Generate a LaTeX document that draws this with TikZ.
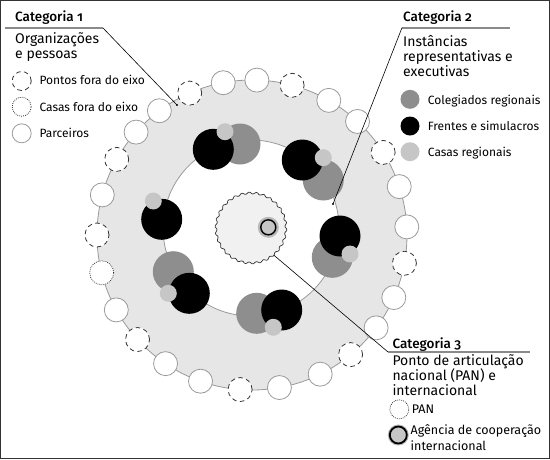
\documentclass[tikz,border=0pt]{standalone}
\usepackage{fontspec}
\setmainfont{Fira Sans}[Numbers=OldStyle]
\newfontfamily\headfont{Fira Sans Medium}[Numbers=OldStyle]
\usetikzlibrary{calc}
\definecolor{discfill}{HTML}{E6E6E7}
\definecolor{ringgray}{HTML}{9A9A9A}
\definecolor{darkline}{HTML}{333333}
\definecolor{midgray}{HTML}{8E8E8E}
\definecolor{ltgray}{HTML}{C6C6C6}
\definecolor{wavyfill}{HTML}{F1F1F1}
\definecolor{hgray}{HTML}{8A8A8A}
\definecolor{framecol}{HTML}{333333}
\tikzset{
  ringsolid/.style={circle, draw=ringgray, line width=0.8pt, fill=white, minimum size=24pt, inner sep=0pt},
  ringdash/.style={ringsolid, draw=darkline, dash pattern=on 4.5pt off 3.5pt},
  ringdot/.style={ringsolid, draw=darkline, dash pattern=on 0.8pt off 1.2pt},
  lgsolid/.style={ringsolid, minimum size=19pt},
  lgdash/.style={ringdash, minimum size=19pt},
  lgdot/.style={ringdot, minimum size=19pt},
  medc/.style={circle, fill=midgray, minimum size=41pt, inner sep=0pt},
  blkc/.style={circle, fill=black, minimum size=41pt, inner sep=0pt},
  ltc/.style={circle, fill=ltgray, minimum size=17pt, inner sep=0pt},
  lgfill/.style={circle, minimum size=19pt, inner sep=0pt},
  txt/.style={anchor=base west, inner sep=0pt, font=\fontsize{14}{16}\selectfont},
  lgd/.style={anchor=base west, inner sep=0pt, font=\fontsize{12}{14}\selectfont},
  lgdb/.style={anchor=base west, inner sep=0pt, font=\fontsize{12.5}{14}\selectfont},
  head/.style={anchor=base west, inner sep=0pt, font=\headfont\fontsize{13.5}{16}\selectfont},
  hline/.style={draw=hgray, line width=2pt},
  leader/.style={draw=black, line width=0.6pt},
  agency/.style={circle, fill=ltgray, draw=black, line width=1.4pt, minimum size=15pt, inner sep=0pt},
}
\begin{document}
\begin{tikzpicture}[x=1pt,y=-1pt]
\useasboundingbox (0,0) rectangle (550,459);
\draw[framecol, line width=1.2pt] (0.6,0.6) rectangle (549.4,458.4);

% big disc
\node[circle, fill=discfill, draw=ringgray, line width=0.8pt, minimum size=310pt, inner sep=0pt] (disc) at (252,235) {};
% inner white disc
\node[circle, fill=white, draw=ringgray, line width=0.8pt, minimum size=176pt, inner sep=0pt] (inner) at (251,228) {};

% ring of circles
\begin{scope}[shift={(252,235)}]
\foreach \a/\s [count=\i] in {-88.2/ringsolid,-75/ringdash,-60.3/ringsolid,-47.1/ringsolid,-32.2/ringdash,-18.2/ringsolid,-3/ringsolid,10.5/ringdash,23.8/ringsolid,36.8/ringsolid,50.5/ringdash,63.9/ringsolid,79.8/ringsolid,94.4/ringdash,109.4/ringsolid,123.9/ringsolid,137.6/ringdash,151.1/ringsolid,165.9/ringdot,180/ringdash,195/ringsolid,209.2/ringdash,221.6/ringsolid,233.3/ringsolid,246.3/ringdash,259.3/ringsolid}
  \node[\s] (r\i) at (\a:155) {};
\end{scope}

% PAN center
\node[circle, fill=wavyfill, minimum size=70pt, inner sep=0pt] (pan) at (251,228) {};
\draw[darkline, line width=0.7pt] plot[domain=0:360, samples=400, smooth] ({251+(35+0.9*sin(30*\x))*cos(\x)}, {228+(35+0.9*sin(30*\x))*sin(\x)});
\node[circle, fill=ringgray!70, minimum size=21pt, inner sep=0pt] (agchalo) at (268.3,227.3) {};
\node[agency] (agc) at (268.3,227.3) {};

% clusters: gray, black, light
\node[medc] (g1) at (240,144) {};
\node[blkc] (b1) at (213.3,149.3) {};
\node[ltc] (l1) at (225,131.7) {};

\node[medc] (g2) at (323.3,180) {};
\node[blkc] (b2) at (302.3,160) {};
\node[ltc] (l2) at (323.3,157.7) {};

\node[blkc] (b3) at (161.7,219.3) {};
\node[ltc] (l3) at (153.3,201) {};

\node[medc] (g4) at (332.3,257.3) {};
\node[blkc] (b4) at (340,236) {};
\node[ltc] (l4) at (350,254) {};

\node[medc] (g5) at (173.3,271.7) {};
\node[blkc] (b5) at (189.3,293.3) {};
\node[ltc] (l5) at (168.3,293.3) {};

\node[medc] (g6) at (256.7,313.3) {};
\node[blkc] (b6) at (281.7,310) {};
\node[ltc] (l6) at (273.3,327.3) {};

% leaders
\coordinate (c1s) at (5,28);
\coordinate (c1k) at (103,28);
\coordinate (c1e) at (177,105);
\draw[hline] (c1s) -- (c1k);
\draw[leader] (c1k) -- (c1e);
\fill (c1e) circle (1.2);

\coordinate (c2k) at (402,27.7);
\coordinate (c2s) at (509.5,27.7);
\coordinate (c2e) at (333,204);
\draw[hline] (c2k) -- (c2s);
\draw[leader] (c2k) -- (c2e);
\fill (c2e) circle (1.2);

\coordinate (c3k) at (388,352);
\coordinate (c3e) at (530,352);
\draw[leader] (pan.-50) -- (c3k);
\draw[hline] (c3k) -- (c3e);

% Category 1
\node[head] (h1) at (15,21) {Categoria 1};
\node[txt] (t1a) at (15,43) {Organizações};
\node[txt] (t1b) at (15,58) {e pessoas};
\node[lgdash] (k1a) at (21.7,81) {};
\node[lgdot] (k1b) at (21.7,106.7) {};
\node[lgsolid] (k1c) at (21.7,133.3) {};
\node[lgd] (e1a) at (39.3,84.7) {Pontos fora do eixo};
\node[lgd] (e1b) at (39.3,111.5) {Casas fora do eixo};
\node[lgd] (e1c) at (39.3,137.3) {Parceiros};

% Category 2
\node[head] (h2) at (403,21) {Categoria 2};
\node[txt] (t2a) at (403,46) {Instâncias};
\node[txt] (t2b) at (403,61) {representativas e};
\node[txt] (t2c) at (403,76) {executivas};
\node[lgfill, fill=midgray] (k2a) at (410,99.3) {};
\node[lgfill, fill=black] (k2b) at (410,126) {};
\node[lgfill, fill=ltgray] (k2c) at (410,151.7) {};
\node[lgd] (e2a) at (427.7,104) {Colegiados regionais};
\node[lgd] (e2b) at (427.7,130.5) {Frentes e simulacros};
\node[lgd] (e2c) at (427.7,156) {Casas regionais};

% Category 3
\node[head] (h3) at (392.3,348.3) {Categoria 3};
\node[txt] (t3a) at (392.3,365) {Ponto de articulação};
\node[txt] (t3b) at (392.3,380) {nacional (PAN) e};
\node[txt] (t3c) at (392.3,395) {internacional};
\node[lgdot] (k3a) at (399.3,409.3) {};
\node[circle, fill=ringgray!70, minimum size=21pt, inner sep=0pt] (k3bh) at (398.3,435) {};
\node[agency, minimum size=17pt, line width=1.8pt] (k3b) at (398.3,435) {};
\node[lgdb] (e3a) at (411.7,413.3) {PAN};
\node[lgdb] (e3b) at (410.5,434.5) {Agência de cooperação};
\node[lgdb] (e3c) at (410.5,450.5) {internacional};
\end{tikzpicture}
\end{document}
